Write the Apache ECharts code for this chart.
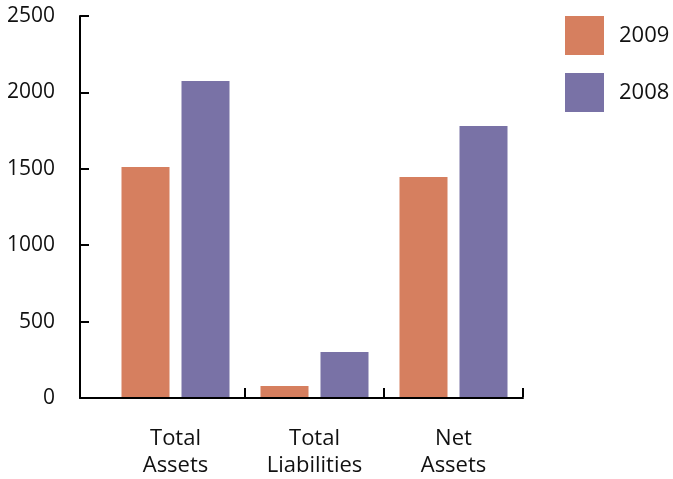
<!DOCTYPE html>
<html>
<head>
<meta charset="utf-8">
<script src="https://cdn.jsdelivr.net/npm/echarts@6/dist/echarts.min.js"></script>
<style>
html,body{margin:0;padding:0;background:#fff;}
#chart{width:673px;height:479px;}
</style>
</head>
<body>
<div id="chart"></div>
<script>
const categories = ['Total\nAssets', 'Total\nLiabilities', 'Net\nAssets'];
const seriesNames = ['2009', '2008'];
const values2009 = [1509, 72, 1444];
const values2008 = [2073, 296, 1778];
const yTicks = [0, 500, 1000, 1500, 2000, 2500];

const FONT = 'Open Sans';
const chart = echarts.init(document.getElementById('chart'), null, {renderer: 'canvas'});
const yMin = yTicks[0], yMax = yTicks[yTicks.length - 1], yStep = yTicks[1] - yTicks[0];

chart.setOption({
  animation: false,
  backgroundColor: '#ffffff',
  textStyle: {fontFamily: FONT},
  legend: {
    orient: 'vertical',
    left: 565,
    top: 16,
    padding: 0,
    itemWidth: 39,
    itemHeight: 39,
    itemGap: 18,
    icon: 'rect',
    data: seriesNames,
    textStyle: {fontFamily: FONT, fontSize: 22, color: '#111', padding: [0, 0, 0, 10]}
  },
  grid: [
    {left: 80, right: 150, top: 16, bottom: 81},
    {left: 106, right: 150, top: 16, bottom: 81}
  ],
  xAxis: [
    {
      gridIndex: 0, type: 'category', data: [''],
      axisLine: {show: true, lineStyle: {color: '#000', width: 2}},
      axisTick: {show: false}, axisLabel: {show: false}, splitLine: {show: false}
    },
    {
      gridIndex: 1, type: 'category', data: categories,
      axisLine: {show: false},
      axisTick: {show: true, inside: true, length: 9, interval: function (i) { return i > 0; },
                 lineStyle: {color: '#000', width: 2}},
      axisLabel: {fontFamily: FONT, fontSize: 22, lineHeight: 27, color: '#111', margin: 28, interval: 0}
    }
  ],
  yAxis: [
    {
      gridIndex: 0, type: 'value', min: yMin, max: yMax, interval: yStep,
      axisLine: {show: true, lineStyle: {color: '#000', width: 2}},
      axisTick: {show: true, inside: true, length: 9, lineStyle: {color: '#000', width: 2}},
      axisLabel: {fontFamily: FONT, fontSize: 21, color: '#111', margin: 25,
                  formatter: function (v) { return String(v); }},
      splitLine: {show: false}
    },
    {
      gridIndex: 1, type: 'value', min: yMin, max: yMax, interval: yStep,
      show: false, splitLine: {show: false}
    }
  ],
  series: [
    {name: seriesNames[0], type: 'bar', xAxisIndex: 1, yAxisIndex: 1, data: values2009,
     barWidth: 48, barGap: '25%', itemStyle: {color: '#D67F5F'}},
    {name: seriesNames[1], type: 'bar', xAxisIndex: 1, yAxisIndex: 1, data: values2008,
     barWidth: 48, barGap: '25%', itemStyle: {color: '#7972A6'}}
  ]
});
</script>
</body>
</html>
